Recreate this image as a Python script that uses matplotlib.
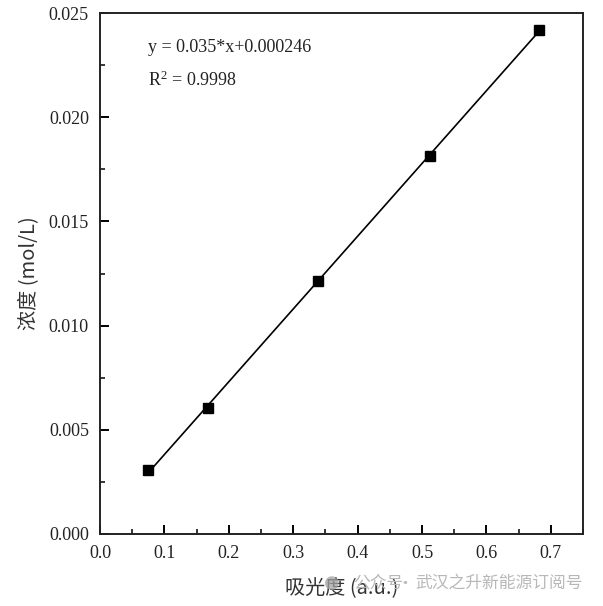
import matplotlib
matplotlib.use("Agg")
import matplotlib.pyplot as plt
import numpy as np
from matplotlib.ticker import MultipleLocator

absorbance = [0.074, 0.167, 0.339, 0.512, 0.681]
concentration = [0.00305, 0.00603, 0.01212, 0.01813, 0.02418]
xticks = [0.0, 0.1, 0.2, 0.3, 0.4, 0.5, 0.6, 0.7]
yticks = [0.000, 0.005, 0.010, 0.015, 0.020, 0.025]
eq_text = "y = 0.035*x+0.000246"
r2_text = r"R$^2$ = 0.9998"
xlabel = "吸光度 (a.u.)"
ylabel = "浓度 (mol/L)"
wm_a = "公众号"
wm_b = "·"
wm_c = "武汉之升新能源订阅号"

plt.rcParams["mathtext.fontset"] = "custom"
plt.rcParams["mathtext.rm"] = "Liberation Serif"
plt.rcParams["mathtext.it"] = "Liberation Serif:italic"

serif = ["Liberation Serif", "DejaVu Serif"]
cjk = ["Noto Sans CJK SC", "DejaVu Sans"]

fig = plt.figure(figsize=(6.03, 6.06), dpi=100)
ax = fig.add_axes([100/603, 1-534/606, (583-100)/603, (534-13)/606])

coef = np.polyfit(absorbance, concentration, 1)
xs = np.array([min(absorbance), max(absorbance)])
ax.plot(xs, np.polyval(coef, xs), color="black", lw=1.2, zorder=2)
ax.plot(absorbance, concentration, ls="none", marker="s", ms=6.5, color="black", zorder=3)

ax.set_xlim(0, 0.75)
ax.set_ylim(0, 0.025)
ax.set_xticks(xticks)
ax.set_yticks(yticks)
ax.xaxis.set_minor_locator(MultipleLocator(0.05))
ax.yaxis.set_minor_locator(MultipleLocator(0.0025))
ax.set_xticklabels([f"{v:.1f}" for v in xticks], fontfamily=serif, fontsize=13, color="#222222")
ax.set_yticklabels([f"{v:.3f}" for v in yticks], fontfamily=serif, fontsize=13, color="#222222")
ax.tick_params(which="major", direction="in", length=6.5, width=1.4)
ax.tick_params(axis="y", which="major", pad=8)
ax.tick_params(axis="x", which="major", pad=8)
ax.tick_params(which="minor", direction="in", length=3.6, width=1.1)
for s in ax.spines.values():
    s.set_linewidth(1.4)
    s.set_color("#222222")

ax.set_xlabel(xlabel, fontfamily=cjk, fontsize=14.5, color="#333333", labelpad=11)
ax.set_ylabel(ylabel, fontfamily=cjk, fontsize=14.5, color="#333333", labelpad=7)

ax.text(0.099, 0.934, eq_text, transform=ax.transAxes, fontfamily=serif, fontsize=13, va="center", ha="left", color="#222222")
ax.text(0.099, 0.870, r2_text, transform=ax.transAxes, fontfamily=serif, fontsize=13, va="center", ha="left", color="#222222")

wy = 1 - 583/606
fig.text(332/603, wy, "●", fontsize=13, color="#a0a0a0", alpha=0.75, ha="center", va="center", fontfamily=["DejaVu Sans"], zorder=5)
fig.text(353/603, wy, wm_a, fontsize=12.1, color="#b8b8b8", ha="left", va="center", fontfamily=cjk)
fig.text(405/603, wy, wm_b, fontsize=12.1, color="#b8b8b8", ha="center", va="center", fontfamily=cjk)
fig.text(415/603, wy, wm_c, fontsize=12.1, color="#b8b8b8", ha="left", va="center", fontfamily=cjk)

fig.savefig("out.png", dpi=100)
